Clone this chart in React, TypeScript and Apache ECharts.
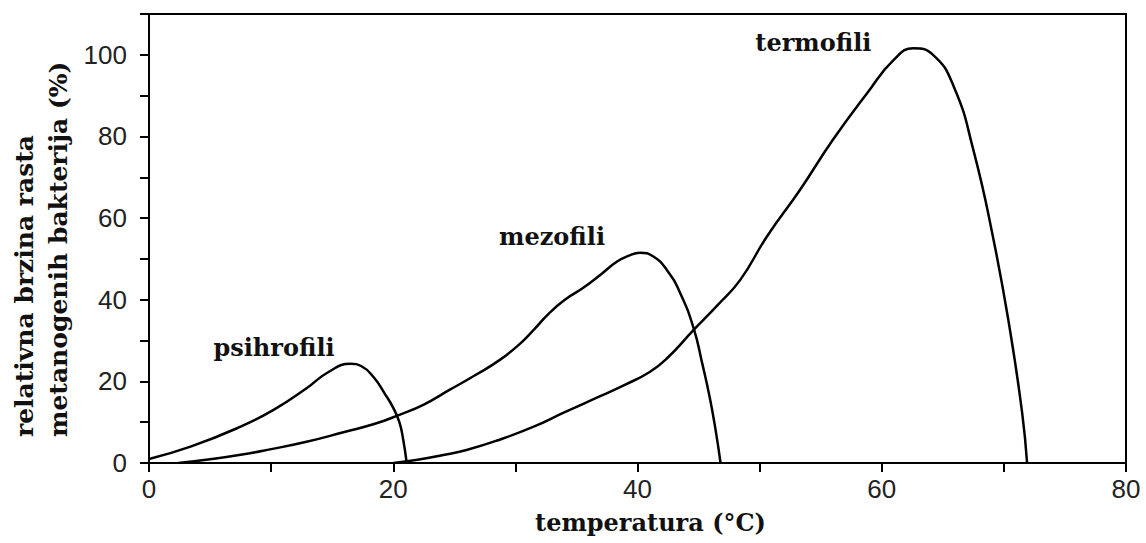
import React, { useEffect, useRef } from "react";
import * as echarts from "echarts";

// temperature (°C), relative growth rate (%)
const psihrofili: [number, number][] = [
  [0, 1.0], [3.4, 4.0], [7.5, 8.9], [10.2, 13], [12.9, 18.3], [14.7, 22.3],
  [16.5, 24.3], [17.4, 23.7], [18.4, 21], [19.3, 17], [20, 13.5],
  [20.5, 10], [20.8, 6], [21.1, 0],
];
const mezofili: [number, number][] = [
  [2.4, 0], [5, 0.9], [7.5, 2.0], [10, 3.4], [12.9, 5.2], [16, 7.6],
  [18.5, 9.6], [20.5, 11.8], [22.5, 14.3], [24.6, 17.9], [26.7, 21.5],
  [28.7, 25.2], [30.3, 29.0], [31.5, 32.6], [32.8, 36.8], [34.2, 40.3],
  [35.5, 42.8], [37, 46.2], [38.3, 49.3], [39.3, 50.8], [40.2, 51.5],
  [41.3, 50.6], [42.4, 47.3], [43.5, 41.6], [44.6, 33], [45.3, 24.4],
  [45.9, 16.3], [46.4, 8], [46.8, 0],
];
const termofili: [number, number][] = [
  [20, 0], [22, 0.8], [24, 1.9], [26, 3.2], [28.5, 5.5], [31.5, 8.9],
  [34, 12.4], [36.9, 16.3], [39, 19.2], [41, 22.3], [42.4, 25.6],
  [44.6, 32.6], [46.5, 38.5], [48.4, 44.8], [50.6, 55.5], [53.3, 66.9],
  [56, 79.2], [58.8, 90.6], [61, 98.8], [62.6, 101.6], [64.2, 100],
  [65.9, 92.2], [67.5, 76.7], [69.1, 55.5], [70.5, 32.6], [71.5, 12.2],
  [71.9, 0],
];

const seriesNames = ["psihrofili", "mezofili", "termofili"];
const labelAnchors: [number, number][] = [[10.24, 28.4], [33.0, 55.6], [54.4, 102.9]];

const xMin = 0, xMax = 80, xStep = 10, xLabelStep = 20;
const yMin = 0, yMax = 110, yStep = 10, yLabelStep = 20;
const xTitle = "temperatura (°C)";
const yTitle = "relativna brzina rasta\nmetanogenih bakterija (%)";

const serif = "DejaVu Serif";
const sans = "Liberation Sans";

export default function App() {
  const ref = useRef<HTMLDivElement>(null);
  useEffect(() => {
    if (!ref.current) return;
    const chart = echarts.init(ref.current, undefined, { renderer: "svg" });
    const datasets = [psihrofili, mezofili, termofili];
    chart.setOption({
      animation: false,
      backgroundColor: "#fff",
      grid: {
        left: 149, right: 20, top: 14, bottom: 80,
        show: true, borderColor: "#000", borderWidth: 2,
      },
      xAxis: {
        type: "value", min: xMin, max: xMax, interval: xStep,
        splitLine: { show: false },
        axisLine: { lineStyle: { color: "#000", width: 2 } },
        axisTick: { show: true, inside: false, length: 9, lineStyle: { color: "#000", width: 2 } },
        axisLabel: {
          margin: 13, fontSize: 26, fontFamily: sans, color: "#222",
          formatter: (v: number) => (v % xLabelStep === 0 ? String(v) : ""),
        },
        name: xTitle, nameLocation: "middle", nameGap: 47,
        nameTextStyle: { fontFamily: serif, fontWeight: "bold", fontSize: 24, color: "#111", padding: [0, 0, 0, 26] },
      },
      yAxis: {
        type: "value", min: yMin, max: yMax, interval: yStep,
        splitLine: { show: false },
        axisLine: { lineStyle: { color: "#000", width: 2 } },
        axisTick: { show: true, inside: false, length: 9, lineStyle: { color: "#000", width: 2 } },
        axisLabel: {
          margin: 22, fontSize: 26, fontFamily: sans, color: "#222",
          formatter: (v: number) => (v % yLabelStep === 0 ? String(v) : ""),
        },
      },
      graphic: [
        {
          type: "text", x: 7, y: 437, rotation: Math.PI / 2,
          style: {
            text: yTitle, fontFamily: serif, fontWeight: "bold", fontSize: 25,
            lineHeight: 34, fill: "#111",
            textAlign: "left", textVerticalAlign: "top", align: "left", verticalAlign: "top",
          },
        },
      ],
      series: datasets.map((d, i) => ({
        name: seriesNames[i],
        type: "line",
        data: d,
        smooth: 0.5,
        showSymbol: false,
        symbol: "none",
        lineStyle: { color: "#000", width: 2.5 },
        markPoint: {
          symbol: "rect", symbolSize: 1,
          itemStyle: { color: "rgba(0,0,0,0)" },
          label: {
            show: true, position: "inside", formatter: seriesNames[i],
            fontFamily: serif, fontWeight: "bold", fontSize: 24, color: "#111",
          },
          data: [{ coord: labelAnchors[i] }],
        },
      })),
    });
    return () => chart.dispose();
  }, []);
  return (
    <div
      ref={ref}
      style={{ position: "fixed", left: 0, top: 0, width: 1146, height: 543 }}
    />
  );
}
